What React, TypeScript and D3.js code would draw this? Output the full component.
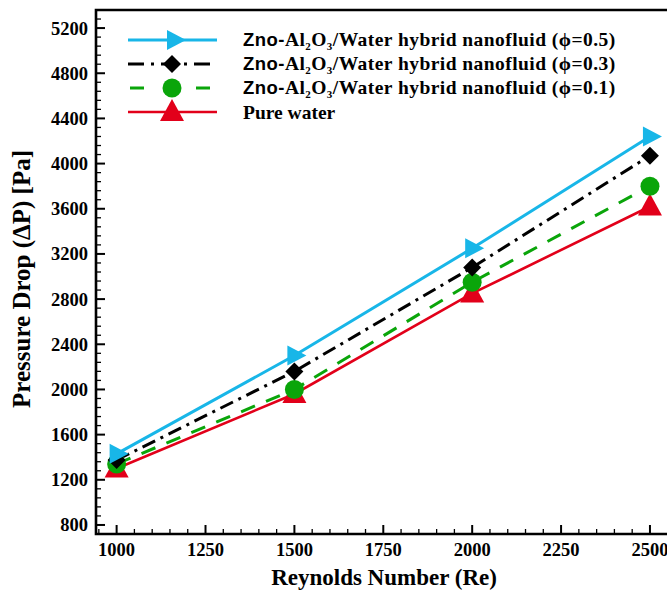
import React from "react";
import * as d3 from "d3";

const reynolds = [1000, 1500, 2000, 2500];
const phi05 = [1430, 2300, 3250, 4240];
const phi03 = [1375, 2160, 3080, 4070];
const phi01 = [1340, 2000, 2950, 3800];
const pureWater = [1300, 1960, 2850, 3620];

const xTickLabels = [1000, 1250, 1500, 1750, 2000, 2250, 2500];
const yTickLabels = [800, 1200, 1600, 2000, 2400, 2800, 3200, 3600, 4000, 4400, 4800, 5200];

const legendLabels = ["(\u03d5=0.5)", "(\u03d5=0.3)", "(\u03d5=0.1)"];

const W = 667, H = 591;
const left = 96, bottom = 534, top = 10;

const x = d3.scaleLinear().domain([942, 2560]).range([left, left + 1618 * 0.35556]);
const y = d3.scaleLinear().domain([720, 5360]).range([bottom, top]);

const BLUE = "#18b6e8";
const RED = "#e2001a";
const GREEN = "#0aa50a";
const SERIF = "'Liberation Serif', 'Times New Roman', serif";
const SANS = "'Liberation Sans', Arial, sans-serif";

type Series = { vals: number[]; color: string; dash: string; marker: string; width: number };
const series: Series[] = [
  { vals: pureWater, color: RED, dash: "", marker: "tri", width: 2.6 },
  { vals: phi01, color: GREEN, dash: "15,12", marker: "circle", width: 3 },
  { vals: phi03, color: "#000", dash: "14,6,3,6", marker: "diamond", width: 3 },
  { vals: phi05, color: BLUE, dash: "", marker: "right", width: 3 },
];

function Marker({ kind, cx, cy, color }: { kind: string; cx: number; cy: number; color: string }) {
  if (kind === "circle") return <circle cx={cx} cy={cy} r={9.5} fill={color} />;
  if (kind === "diamond")
    return <path d={`M${cx},${cy - 9}L${cx + 9},${cy}L${cx},${cy + 9}L${cx - 9},${cy}Z`} fill={color} />;
  if (kind === "tri")
    return <path d={`M${cx},${cy - 13}L${cx + 12},${cy + 9}L${cx - 12},${cy + 9}Z`} fill={color} />;
  return <path d={`M${cx + 12},${cy}L${cx - 7},${cy - 10}L${cx - 7},${cy + 10}Z`} fill={color} />;
}

export default function App() {
  const line = d3.line<number>().x((_, i) => x(reynolds[i])).y((v) => y(v));
  const yMinor = d3.range(720, 5361, 80);
  const xMinor = d3.range(950, 2560, 50);
  const legendSeries = [series[3], series[2], series[1], series[0]];
  const legendY = [40, 64, 88, 112];

  return (
    <svg width={W} height={H} style={{ position: "absolute", left: 0, top: 0, background: "#fff" }}>
      {yMinor.map((v) => {
        const major = (v - 800) % 400 === 0;
        return <line key={"yt" + v} x1={left} x2={left + (major ? 9 : 5)} y1={y(v)} y2={y(v)} stroke="#000" strokeWidth={major ? 2 : 1.3} />;
      })}
      {xMinor.map((v) => {
        const major = (v - 1000) % 250 === 0;
        return <line key={"xt" + v} x1={x(v)} x2={x(v)} y1={bottom} y2={bottom - (major ? 9 : 5)} stroke="#000" strokeWidth={major ? 2 : 1.3} />;
      })}
      <path d={`M${W + 5},${top}L${left},${top}L${left},${bottom}L${W + 5},${bottom}`} fill="none" stroke="#000" strokeWidth={2.6} />
      {yTickLabels.map((v) => (
        <text key={"yl" + v} x={88} y={y(v) + 6.5} textAnchor="end" fontFamily={SERIF} fontWeight="bold" fontSize={18.5}>{v}</text>
      ))}
      {xTickLabels.map((v) => (
        <text key={"xl" + v} x={x(v)} y={556} textAnchor="middle" fontFamily={SERIF} fontWeight="bold" fontSize={18.5}>{v}</text>
      ))}
      <text x={384} y={585} textAnchor="middle" fontFamily={SERIF} fontWeight="bold" fontSize={23}>Reynolds Number (Re)</text>
      <text transform="translate(30,279) rotate(-90)" textAnchor="middle" fontFamily={SERIF} fontWeight="bold" fontSize={25}>Pressure Drop (ΔP) [Pa]</text>
      {series.map((s, k) => (
        <path key={"l" + k} d={line(s.vals) || ""} fill="none" stroke={s.color} strokeWidth={s.width} strokeDasharray={s.dash} />
      ))}
      {series.map((s, k) =>
        s.vals.map((v, i) => <Marker key={"m" + k + i} kind={s.marker} cx={x(reynolds[i])} cy={y(v)} color={s.color} />)
      )}
      {legendSeries.map((s, k) => (
        <g key={"lg" + k}>
          <line x1={128} x2={217} y1={legendY[k]} y2={legendY[k]} stroke={s.color} strokeWidth={s.width} strokeDasharray={s.dash === "15,12" ? "14,19" : s.dash === "" ? "" : "16,7,3,7"} strokeDashoffset={s.dash === "15,12" ? -2 : 0} />
          <Marker kind={s.marker} cx={k === 0 ? 174 : 172} cy={legendY[k]} color={s.color} />
          {k < 3 ? (
            <text x={243} y={legendY[k] + 6} fontWeight="bold" fontSize={19.5} letterSpacing={0.45}>
              <tspan fontFamily={SANS} fontSize={18.5}>Zno-</tspan>
              <tspan fontFamily={SERIF}>Al</tspan>
              <tspan fontFamily={SERIF} fontSize={11} dy={3.5}>2</tspan>
              <tspan fontFamily={SERIF} dy={-3.5}>O</tspan>
              <tspan fontFamily={SERIF} fontSize={11} dy={3.5}>3</tspan>
              <tspan fontFamily={SERIF} dy={-3.5}>/Water hybrid nanofluid {legendLabels[k]}</tspan>
            </text>
          ) : (
            <text x={243} y={legendY[k] + 6.5} fontWeight="bold" fontSize={19.5} fontFamily={SERIF}>Pure water</text>
          )}
        </g>
      ))}
    </svg>
  );
}
